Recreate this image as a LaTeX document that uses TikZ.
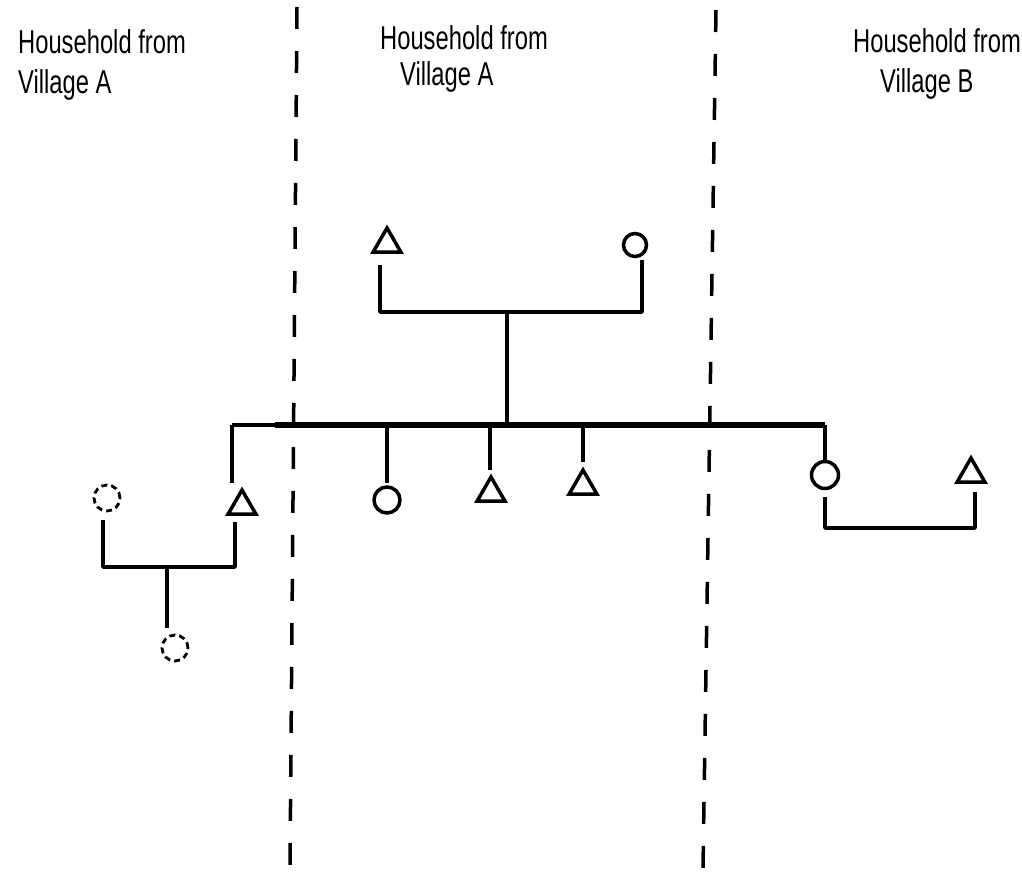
\documentclass[tikz,border=0pt]{standalone}
\usepackage{fontspec}
\setmainfont{Liberation Sans}
\usetikzlibrary{shapes.geometric}
\tikzset{
  tree/.style={line width=3.5pt, line join=round},
  thickline/.style={line width=6pt},
  divider/.style={line width=3.5pt, dash pattern=on 22pt off 22pt},
  male/.style={draw, line width=3.5pt, regular polygon, regular polygon sides=3, minimum size=32pt, inner sep=0pt},
  female/.style={draw, line width=3.5pt, circle, minimum size=#1, inner sep=0pt},
  female/.default=24pt,
  ghost/.style={draw, line width=2.8pt, circle, dash pattern=on 6pt off 4pt, minimum size=26pt, inner sep=0pt},
  label/.style={anchor=base west, inner sep=0pt, font=\fontsize{33}{38}\selectfont, xscale=0.72, transform shape}
}
\begin{document}
\begin{tikzpicture}[x=1pt,y=-1pt]
\useasboundingbox (0,0) rectangle (1022,872);
% dividers
\coordinate (d1t) at (297,7); \coordinate (d1b) at (290,868);
\coordinate (d2t) at (716,10); \coordinate (d2b) at (703,868);
\draw[divider] (d1t) -- (d1b);
\draw[divider] (d2t) -- (d2b);
% labels
\node[label] (l1a) at (18,54) {Household from};
\node[label] (l1b) at (18,94) {Village A};
\node[label] (l2a) at (380,50) {Household from};
\node[label] (l2b) at (400,86) {Village A};
\node[label] (l3a) at (853,53) {Household from};
\node[label] (l3b) at (880,93) {Village B};
% parents
\node[male] (fa) at (387,244) {};
\node[female=23pt] (mo) at (635,245) {};
\coordinate (fa1) at (380,265); \coordinate (fa2) at (380,312);
\coordinate (mo1) at (642,260); \coordinate (mo2) at (642,312);
\coordinate (pm) at (507,312); \coordinate (sm) at (507,425);
\draw[tree] (fa1) -- (fa2) -- (mo2) -- (mo1);
\draw[tree] (pm) -- (sm);
% sibling line
\coordinate (sL) at (232,425); \coordinate (sT) at (275,425); \coordinate (sR) at (825,425);
\draw[tree] (sL) -- (sT);
\draw[thickline] (sT) -- (sR);
% children in the middle
\node[female=26pt] (c1) at (387,500) {};
\node[male] (c2) at (491,493) {};
\node[male] (c3) at (583,486) {};
\draw[tree] (387,425) coordinate (c1t) -- (387,483) coordinate (c1b);
\draw[tree] (490,425) coordinate (c2t) -- (490,470) coordinate (c2b);
\draw[tree] (583,425) coordinate (c3t) -- (583,462) coordinate (c3b);
% left household
\node[male] (lb) at (242,506) {};
\node[ghost] (lw) at (107,498) {};
\node[ghost] (lc) at (175,648) {};
\draw[tree] (sL) -- (232,483) coordinate (lbt);
\coordinate (lb1) at (235,522); \coordinate (lb2) at (235,567);
\coordinate (lw2) at (103,567); \coordinate (lw1) at (103,520);
\coordinate (lm) at (167,567); \coordinate (lmc) at (167,628);
\draw[tree] (lb1) -- (lb2) -- (lw2) -- (lw1);
\draw[tree] (lm) -- (lmc);
% right household
\node[female=27pt] (rs) at (825,475) {};
\node[male] (rh) at (971,474) {};
\draw[tree] (sR) -- (825,460) coordinate (rst);
\coordinate (rs1) at (825,497); \coordinate (rs2) at (825,528);
\coordinate (rh2) at (975,528); \coordinate (rh1) at (975,492);
\draw[tree] (rs1) -- (rs2) -- (rh2) -- (rh1);
\end{tikzpicture}
\end{document}
